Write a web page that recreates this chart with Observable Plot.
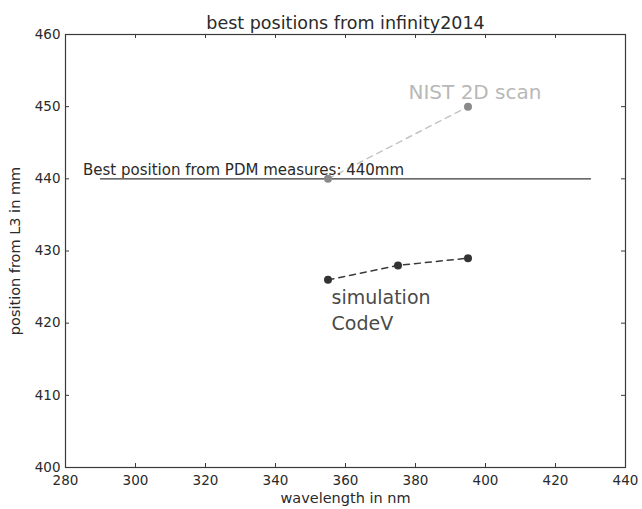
<!DOCTYPE html>
<html>
<head>
<meta charset="utf-8">
<script src="https://cdn.jsdelivr.net/npm/d3@7"></script>
<script src="https://cdn.jsdelivr.net/npm/@observablehq/plot@0.6"></script>
<style>
  html, body { margin: 0; padding: 0; background: #fff; }
</style>
</head>
<body>
<div id="chart"></div>
<script>
// ---- data ----
const simWavelength = [355, 375, 395];
const simPosition = [426, 428, 429];
const nistWavelength = [355, 395];
const nistPosition = [440, 450];
const pdmWavelength = [290, 430];
const pdmPosition = [440, 440];
const xTicks = [280, 300, 320, 340, 360, 380, 400, 420, 440];
const yTicks = [400, 410, 420, 430, 440, 450, 460];
const titleText = "best positions from infinity2014";
const xLabel = "wavelength in nm";
const yLabel = "position from L3 in mm";
const pdmLabel = "Best position from PDM measures: 440mm";
const nistLabel = "NIST 2D scan";
const simLabel = "simulation\nCodeV";
const pdmLabelAt = {x: 285, y: 440};
const nistLabelAt = {x: 378, y: 451.1};
const simLabelAt = {x: 356, y: 425.2};

const sim = simWavelength.map((x, i) => ({x, y: simPosition[i]}));
const nist = nistWavelength.map((x, i) => ({x, y: nistPosition[i]}));
const pdm = pdmWavelength.map((x, i) => ({x, y: pdmPosition[i]}));

const W = 642, H = 509, mL = 65, mR = 17, mT = 34, mB = 42;
const fw = W - mL - mR, fh = H - mT - mB, tl = 4;
const font = "DejaVu Sans";

const chart = Plot.plot({
  width: W, height: H,
  marginLeft: mL, marginRight: mR, marginTop: mT, marginBottom: mB,
  x: {domain: [280, 440]},
  y: {domain: [400, 460]},
  style: {fontFamily: font, background: "#fff", color: "#333"},
  marks: [
    // PDM horizontal line
    Plot.line(pdm, {x: "x", y: "y", stroke: "#3a3a3a", strokeWidth: 1.4}),
    // NIST dashed line + points
    Plot.line(nist, {x: "x", y: "y", stroke: "#c4c4c4", strokeWidth: 1.5, strokeDasharray: "6,5"}),
    Plot.dot(nist, {x: "x", y: "y", r: 4, fill: "#8a8a8a", stroke: "none"}),
    // simulation dashed line + points
    Plot.line(sim, {x: "x", y: "y", stroke: "#3a3a3a", strokeWidth: 1.5, strokeDasharray: "6,5"}),
    Plot.dot(sim, {x: "x", y: "y", r: 4, fill: "#333", stroke: "none"}),
    // annotations
    Plot.text([pdmLabel], {x: () => pdmLabelAt.x, y: () => pdmLabelAt.y, textAnchor: "start", lineAnchor: "bottom", dy: -4, fontSize: 15, fill: "#2a2a2a"}),
    Plot.text([nistLabel], {x: () => nistLabelAt.x, y: () => nistLabelAt.y, textAnchor: "start", lineAnchor: "bottom", fontSize: 20, fill: "#b8b8b8"}),
    Plot.text([simLabel], {x: () => simLabelAt.x, y: () => simLabelAt.y, textAnchor: "start", lineAnchor: "top", fontSize: 19, lineHeight: 1.37, fill: "#4a4a4a"}),
    // frame
    Plot.frame({stroke: "#3a3a3a", strokeWidth: 1.2}),
    // inward ticks on all four sides
    Plot.tickX(xTicks, {x: d => d, insetTop: fh - tl, stroke: "#3a3a3a"}),
    Plot.tickX(xTicks, {x: d => d, insetBottom: fh - tl, stroke: "#3a3a3a"}),
    Plot.tickY(yTicks, {y: d => d, insetRight: fw - tl, stroke: "#3a3a3a"}),
    Plot.tickY(yTicks, {y: d => d, insetLeft: fw - tl, stroke: "#3a3a3a"}),
    // axes
    Plot.axisX(xTicks, {tickSize: 0, tickPadding: 8, fontSize: 13.5, label: null, fill: "#2a2a2a"}),
    Plot.axisY(yTicks, {tickSize: 0, tickPadding: 5, fontSize: 13.5, label: null, fill: "#2a2a2a"}),
    // axis titles and chart title
    Plot.text([xLabel], {frameAnchor: "bottom", dy: 35, fontSize: 14.5, fill: "#2a2a2a"}),
    Plot.text([yLabel], {frameAnchor: "left", textAnchor: "middle", dx: -50, rotate: -90, fontSize: 14.5, fill: "#2a2a2a"}),
    Plot.text([titleText], {frameAnchor: "top", textAnchor: "middle", dy: -6, lineAnchor: "bottom", fontSize: 17.5, fill: "#2a2a2a"})
  ]
});
document.getElementById("chart").appendChild(chart);
</script>
</body>
</html>
